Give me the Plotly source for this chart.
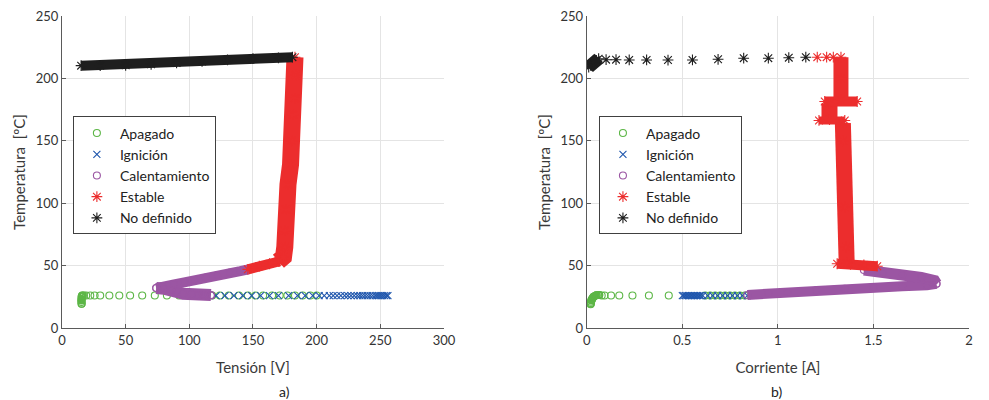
import plotly.graph_objects as go
from plotly.subplots import make_subplots

# ---------------- a) Temperatura vs Tensión ----------------
V_APAGADO = [15.4, 15.3, 15.3, 15.4, 15.5, 15.6, 16.2, 17.2, 19.0, 22.2, 25.6, 30.0, 37.2,
             45.0, 53.5, 63.0, 72.9, 82.4, 92.0, 101.5, 110.0, 118.0, 124.0, 131.0, 139.0,
             146.0, 152.0, 158.0, 165.0, 171.0, 177.0, 183.0, 189.0, 195.0, 200.0]
T_APAGADO_V = [19.5, 20.8, 22.0, 23.2, 24.4, 25.4, 26.0, 26.0, 26.0, 26.0, 26.0, 26.0, 26.0,
               26.0, 26.0, 26.0, 26.0, 26.0, 26.0, 26.0, 26.0, 26.0, 26.0, 26.0, 26.0,
               26.0, 26.0, 26.0, 26.0, 26.0, 26.0, 26.0, 26.0, 26.0, 26.0]
# tramo compacto del apagado (arranque en frío)
V_APAGADO_TRAZO = [15.4, 15.3, 15.4, 15.8]
T_APAGADO_TRAZO_V = [19.5, 22.5, 25.0, 26.0]

V_IGNICION = [121, 128, 135, 142, 149, 156, 163, 170, 178, 185, 191, 197, 202, 206, 210,
              213, 216, 219, 222, 224.5, 227, 229.5, 232, 234, 236, 238, 240, 242, 244,
              246, 247.5, 249, 250.5, 252, 253.5, 255, 256]
T_IGNICION_V = [26] * len(V_IGNICION)

# calentamiento: trazo continuo (None separa tramos) y puntos sueltos
V_CALENT = [117, 110, 102, 95, 90, 86, 80, 74, None,
            74, 79, 88, 96, 104, 113, 122, 132, 140, 146.5]
T_CALENT_V = [26.5, 26.5, 27, 27.5, 29, 30.5, 31.5, 32, None,
              32, 33.5, 35, 36.5, 38.5, 40.5, 42.5, 44.5, 45.5, 47]
V_CALENT_SUELTOS = [107, 112, 117]
T_CALENT_SUELTOS_V = [26, 26, 26]

V_ESTABLE = [146, 155, 163, 171, None,
             170, 174, 175, 175, 176, 177.5, 179.5, 180.5, 181.5, 183, 183.5, 183]
T_ESTABLE_V = [47, 49.5, 51.5, 53.5, None,
               53.5, 57, 65, 78, 95, 115, 131, 150, 171, 184, 202.7, 217]

V_NODEF = [181, 170, 150, 130, 110, 90, 70, 50, 30, 15]
T_NODEF_V = [217, 216.5, 215.8, 214.8, 213.6, 212.4, 211.3, 210.5, 210.3, 210.2]

# ---------------- b) Temperatura vs Corriente ----------------
I_APAGADO = [0.020, 0.021, 0.022, 0.024, 0.027, 0.031, 0.036, 0.043, 0.050, 0.058, 0.065,
             0.078, 0.093, 0.127, 0.170, 0.239, 0.325, 0.429, 0.620, 0.646, 0.672, 0.698,
             0.724, 0.749, 0.775, 0.801, 0.827]
T_APAGADO_I = [19.0, 20.0, 21.0, 22.0, 23.0, 24.0, 25.0, 25.8, 26.3, 26.5, 26.5,
               26.0, 26.0, 26.0, 26.0, 26.0, 26.0, 26.0, 26.0, 26.0, 26.0, 26.0,
               26.0, 26.0, 26.0, 26.0, 26.0]
I_APAGADO_TRAZO = [0.021, 0.025, 0.034, 0.050, 0.065]
T_APAGADO_TRAZO_I = [19.5, 22.5, 24.8, 26.2, 26.5]

I_IGNICION = [0.500, 0.508, 0.516, 0.524, 0.532, 0.540, 0.548, 0.556, 0.564, 0.572, 0.580,
              0.588, 0.596, 0.607, 0.633, 0.659, 0.685, 0.711, 0.737, 0.762, 0.788, 0.814,
              0.840]
T_IGNICION_I = [26] * len(I_IGNICION)

I_CALENT = [0.84, 0.95, 1.05, 1.20, 1.35, 1.50, 1.65, 1.78, 1.83, None,
            1.83, 1.82, 1.75, 1.65, 1.55, 1.45]
T_CALENT_I = [26.5, 27.7, 28.8, 30.3, 31.5, 32.5, 33.5, 34.2, 35.5, None,
              35.5, 38, 40.5, 42.5, 44, 46.5]

I_ESTABLE = [1.52, 1.45, 1.38, 1.31, None,
             1.36, 1.358, 1.35, 1.341, 1.34, None,
             1.35, 1.215, None,
             1.27, 1.27, None,
             1.245, 1.415, None,
             1.33, 1.33, 1.33]
T_ESTABLE_I = [49.5, 50.5, 51, 51.5, None,
               52, 65, 97, 150, 164, None,
               166.3, 166.3, None,
               167, 180, None,
               181.5, 181.5, None,
               183, 200, 217]
I_ESTABLE_SUELTOS = [1.206, 1.255, 1.29]
T_ESTABLE_SUELTOS_I = [217, 217, 217]

I_NODEF = [0.010, 0.020, 0.035, 0.050, 0.062]
T_NODEF_I = [209.0, 210.5, 212.5, 214.5, 215.8]
I_NODEF_SUELTOS = [0.101, 0.153, 0.222, 0.313, 0.425, 0.553, 0.687, 0.821, 0.950, 1.057, 1.146]
T_NODEF_SUELTOS_I = [215, 215, 214.8, 214.8, 214.7, 214.8, 215.3, 216.2, 216.2, 216.6, 217]

# ---------------- estilos ----------------
COLORES = {"Apagado": "#5cb646", "Ignición": "#1f56ad", "Calentamiento": "#9b56a3",
           "Estable": "#ec2d2d", "No definido": "#1e1e1e"}
SIMBOLOS = {"Apagado": "circle-open", "Ignición": "x-thin", "Calentamiento": "circle-open",
            "Estable": "asterisk-open", "No definido": "asterisk-open"}
TAMANOS = {"Apagado": 7, "Ignición": 7, "Calentamiento": 7, "Estable": 9, "No definido": 9}
FONT = "Lato, 'Open Sans', sans-serif"

fig = make_subplots(rows=1, cols=2)


def split_segments(xs, ys):
    segs, cx, cy = [], [], []
    for x, y in zip(xs, ys):
        if x is None:
            if cx:
                segs.append((cx, cy))
            cx, cy = [], []
        else:
            cx.append(x)
            cy.append(y)
    if cx:
        segs.append((cx, cy))
    return segs


def add_series(col, legend, name, path_x, path_y, widths, loose_x=(), loose_y=()):
    color = COLORES[name]
    segs = split_segments(path_x, path_y) if path_x else []
    for (sx, sy), w in zip(segs, widths):
        fig.add_trace(go.Scatter(x=sx, y=sy, mode="lines", showlegend=False, legend=legend,
                                 line=dict(color=color, width=w), hoverinfo="skip"),
                      row=1, col=col)
    mx = [x for x in path_x if x is not None] + list(loose_x)
    my = [y for y in path_y if y is not None] + list(loose_y)
    fig.add_trace(go.Scatter(x=mx, y=my, mode="markers", name=name, legend=legend,
                             marker=dict(symbol=SIMBOLOS[name], size=TAMANOS[name], color=color,
                                         line=dict(color=color, width=1.1))),
                  row=1, col=col)


# panel a)
add_series(1, "legend", "Apagado", V_APAGADO_TRAZO, T_APAGADO_TRAZO_V, [6],
           V_APAGADO, T_APAGADO_V)
add_series(1, "legend", "Ignición", [], [], [], V_IGNICION, T_IGNICION_V)
add_series(1, "legend", "Calentamiento", V_CALENT, T_CALENT_V, [12, 10],
           V_CALENT_SUELTOS, T_CALENT_SUELTOS_V)
add_series(1, "legend", "Estable", V_ESTABLE, T_ESTABLE_V, [10, 17])
add_series(1, "legend", "No definido", V_NODEF, T_NODEF_V, [10])

# panel b)
add_series(2, "legend2", "Apagado", I_APAGADO_TRAZO, T_APAGADO_TRAZO_I, [6],
           I_APAGADO, T_APAGADO_I)
add_series(2, "legend2", "Ignición", [], [], [], I_IGNICION, T_IGNICION_I)
add_series(2, "legend2", "Calentamiento", I_CALENT, T_CALENT_I, [10, 11])
add_series(2, "legend2", "Estable", I_ESTABLE, T_ESTABLE_I, [10, 16, 8, 16, 10, 15],
           I_ESTABLE_SUELTOS, T_ESTABLE_SUELTOS_I)
add_series(2, "legend2", "No definido", I_NODEF, T_NODEF_I, [13],
           I_NODEF_SUELTOS, T_NODEF_SUELTOS_I)

axis_common = dict(showgrid=True, gridcolor="#e4e4e4", gridwidth=1, zeroline=False,
                   showline=True, linecolor="#5a5a5a", linewidth=1.2, ticks="inside",
                   ticklen=4, tickcolor="#5a5a5a", tickfont=dict(size=13, color="#333333",
                                                                family=FONT),
                   mirror=False)

fig.update_xaxes(**axis_common)
fig.update_yaxes(**axis_common)
fig.update_xaxes(range=[0, 300], dtick=50, domain=[0, 0.4211],
                 title=dict(text="Tensión [V]", font=dict(size=15, color="#3a3a3a"), standoff=15),
                 row=1, col=1)
fig.update_xaxes(range=[0, 2], tickvals=[0, 0.5, 1, 1.5, 2], ticktext=["0", "0.5", "1", "1.5", "2"],
                 domain=[0.5786, 1.0],
                 title=dict(text="Corriente [A]", font=dict(size=15, color="#3a3a3a"), standoff=15),
                 row=1, col=2)
for c in (1, 2):
    fig.update_yaxes(range=[0, 250], dtick=50,
                     title=dict(text="Temperatura  [ºC]", font=dict(size=15, color="#3a3a3a"),
                                standoff=6),
                     row=1, col=c)

legend_common = dict(xanchor="left", yanchor="top", bgcolor="white", bordercolor="#404040",
                     borderwidth=1, font=dict(size=14, color="#222222", family=FONT),
                     itemwidth=36, tracegroupgap=0)

fig.update_layout(
    width=989, height=400,
    margin=dict(l=62, r=8, t=14, b=72),
    plot_bgcolor="white", paper_bgcolor="white",
    font=dict(family=FONT, color="#333333"),
    legend=dict(x=0.012, y=0.678, **legend_common),
    legend2=dict(x=0.592, y=0.678, **legend_common),
    annotations=[
        dict(text="a)", x=0.2375, y=-0.204, xref="paper", yref="paper", showarrow=False,
             font=dict(size=14, color="#222222"), yanchor="middle"),
        dict(text="b)", x=0.7965, y=-0.204, xref="paper", yref="paper", showarrow=False,
             font=dict(size=14, color="#222222"), yanchor="middle"),
    ],
)

fig.write_html("out.html")
